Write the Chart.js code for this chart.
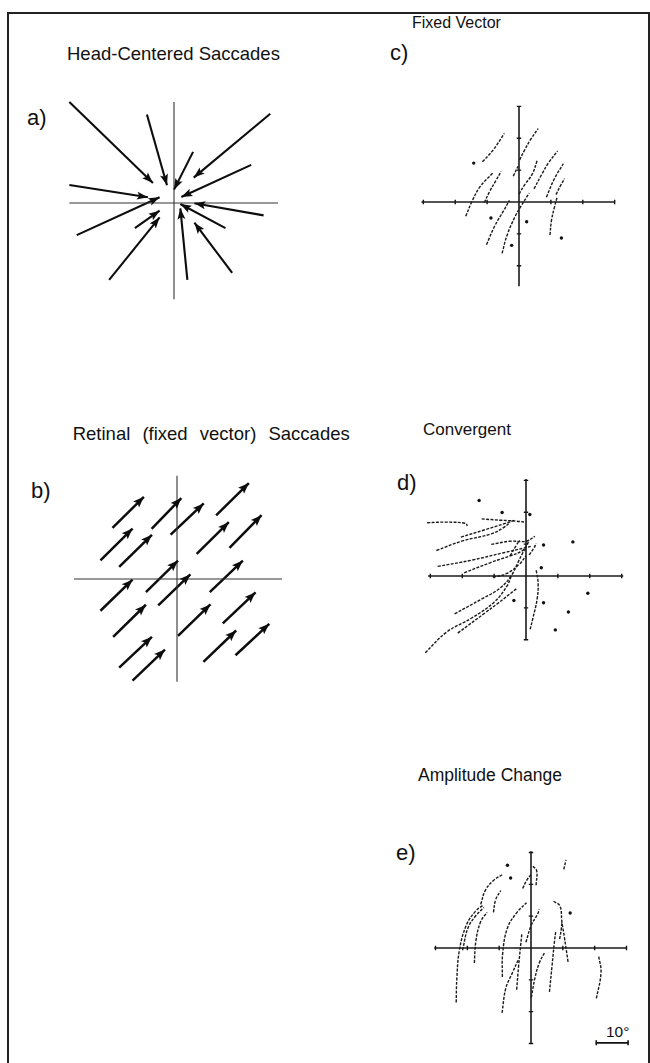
<!DOCTYPE html>
<html>
<head>
<meta charset="utf-8">
<script src="https://cdn.jsdelivr.net/npm/chart.js@4/dist/chart.umd.min.js"></script>
<style>
html, body { margin: 0; padding: 0; background: #fff; overflow: hidden; }
body { width: 650px; height: 1063px; position: relative; font-family: "Liberation Sans", Arial, sans-serif; color: #111; }
.frame { position: absolute; left: 7px; top: 12px; width: 639px; height: 1060px; border: 2px solid #222; border-bottom: none; }
.t { position: absolute; white-space: nowrap; line-height: 1; }
canvas { position: absolute; }
</style>
</head>
<body>
<div class="frame"></div>

<div class="t" style="left:67px;top:45px;font-size:18.5px">Head-Centered Saccades</div>
<div class="t" style="left:412px;top:14.5px;font-size:16px">Fixed Vector</div>
<div class="t" style="left:72.7px;top:425px;font-size:18.5px;word-spacing:7px">Retinal (fixed vector) Saccades</div>
<div class="t" style="left:423px;top:421px;font-size:17px">Convergent</div>
<div class="t" style="left:418px;top:767px;font-size:17.5px">Amplitude Change</div>
<div class="t" style="left:27px;top:107.4px;font-size:22px">a)</div>
<div class="t" style="left:31px;top:480.4px;font-size:22px">b)</div>
<div class="t" style="left:390px;top:41.5px;font-size:22px">c)</div>
<div class="t" style="left:397px;top:471.5px;font-size:22px">d)</div>
<div class="t" style="left:396px;top:841.5px;font-size:22px">e)</div>
<div class="t" style="left:606px;top:1024px;font-size:15.5px">10°</div>

<canvas id="panelA" width="234" height="234" style="left:57.3px;top:85.9px"></canvas>
<canvas id="panelB" width="234" height="234" style="left:60.3px;top:461.7px"></canvas>
<canvas id="panelC" width="234" height="234" style="left:402.3px;top:84.5px"></canvas>
<canvas id="panelD" width="234" height="234" style="left:409px;top:459px"></canvas>
<canvas id="panelE" width="234" height="234" style="left:414.3px;top:830.7px"></canvas>

<script>
// all values in degrees, origin at the axis crossing

// a) head-centered: [x0, y0, x1(tip), y1(tip)]
const headArrows = [
  [-31.3, 30.2, -6.3, 6.0],
  [-8.1, 26.5, -2.1, 5.3],
  [5.7, 15.3, 0, 4.0],
  [28.8, 26.7, 5.9, 7.6],
  [23.1, 11.4, 2.2, 1.8],
  [-31.3, 5.4, -7.8, 1.7],
  [-29.1, -9.6, -4.3, 1.7],
  [26.8, -3.7, 6.1, -0.1],
  [15.4, -7.5, 1.9, -0.3],
  [-11.7, -7.5, -4.3, -2.3],
  [-19.4, -23.0, -4.3, -4.3],
  [4.0, -23.0, 1.9, -1.6],
  [17.4, -20.9, 6.1, -5.9]
];
const headAxisX = [-31.3, 31.1];
const headAxisY = [-28.8, 30.2];

// b) retinal (fixed vector)
const retinalArrows = [
  [-19.3, 15.3, -9.9, 24.6],
  [-7.6, 15.0, 1.3, 24.2],
  [-1.9, 13.3, 8.0, 22.6],
  [11.7, 19.0, 21.5, 28.7],
  [-22.9, 5.6, -13.3, 15.1],
  [-17.3, 3.6, -7.5, 13.2],
  [5.9, 7.5, 15.5, 17.0],
  [15.7, 9.3, 25.3, 19.1],
  [-9.3, -3.9, 0.3, 5.5],
  [-22.9, -9.5, -13.3, -0.2],
  [-5.6, -7.9, 4.0, 1.4],
  [9.8, -3.9, 19.7, 5.5],
  [-19.1, -17.3, -9.3, -7.7],
  [0.3, -17.0, 10.0, -7.6],
  [13.7, -13.3, 23.5, -4.0],
  [-17.3, -26.5, -7.5, -17.3],
  [-13.3, -30.4, -3.6, -21.1],
  [7.9, -24.8, 17.7, -15.4],
  [17.5, -22.8, 27.6, -13.4]
];
const retinalAxisX = [-30.8, 31.4];
const retinalAxisY = [-30.7, 30.9];

// c) fixed vector
const fixedTraces = [
  [[-11.5, 12.6], [-8.2, 16.2], [-4.6, 21.5]],
  [[0.2, 13.2], [1.7, 16.2], [3.7, 19.7], [6.0, 23.0]],
  [[-1.8, 8.1], [-0.3, 11.2]],
  [[0, 2.5], [1.7, 5.3], [4.2, 8.8], [5.7, 13.0]],
  [[4.7, 4.1], [7.2, 8.8], [9.2, 12.2], [12.1, 16.0]],
  [[-16.7, -4.5], [-14.7, 0.3], [-12.2, 4.8], [-8.2, 9.1]],
  [[-10.9, -0.2], [-9.2, 3.3], [-7.2, 6.8], [-5.6, 9.6]],
  [[-10.2, -13.4], [-7.7, -7.7], [-4.8, -2.7], [-3.0, 0.5]],
  [[-5.3, -16.1], [-3.8, -10.6], [-1.3, -4.7], [0.7, -1.2], [3.2, 2.8]],
  [[8.6, 1.5], [11.1, 7.3], [13.9, 12.0]],
  [[11.6, 2.3], [13.1, 5.3], [14.3, 7.3]],
  [[9.7, -10.4], [10.2, -5.7], [11.1, -1.7], [11.9, 1.3]]
];
const fixedDots = [[-14.2, 12.2], [-8.8, -5.0], [2.4, -6.2], [-2.3, -13.6], [13.3, -11.3]];
const fixedAxisX = [-30.6, 29.8];
const fixedAxisY = [-26.4, 29.9];

// d) convergent
const convergentTraces = [
  [[-31, 16.7], [-24.9, 16.9], [-18.9, 16.5], [-18.4, 15.7]],
  [[-13.9, 17.9], [-8, 17.5], [-3, 17.2], [-0.2, 16.9]],
  [[-20.4, 12.2], [-12.9, 14.5], [-6.5, 16.5], [-3.5, 17.5]],
  [[-28.1, 8.0], [-19.9, 11.0], [-10.9, 13.2], [-7.0, 15.2], [-5.0, 16.7]],
  [[-10.9, 9.9], [-5.0, 10.9], [0, 10.9], [2.8, 12.4]],
  [[-27.7, 3.0], [-16.9, 5.0], [-7.0, 7.3], [-0.5, 8.8], [1.5, 9.3]],
  [[-19.4, 1.0], [-10.9, 4.3], [-5.0, 6.3], [-1.0, 8.0], [0.2, 9.7], [1.0, 11.2]],
  [[-5, 6.3], [-3, 9.7], [-2, 11.2]],
  [[1.0, 6.6], [2.5, 8.8], [3.2, 10.2]],
  [[-10.4, -0.4], [-6, 0.8], [-2, 3.8], [0, 6.3]],
  [[-22.4, -11.9], [-13.9, -7.2], [-8, -3.7], [-4.5, 0.3], [-2.5, 4.3], [-1, 7.3], [0, 8.8]],
  [[-21.4, -17.9], [-12.9, -11.6], [-9, -8.7], [-3, -4.0]],
  [[-31.6, -24.1], [-24.9, -17.6], [-16.9, -13.1], [-10, -8.2], [-6, -3.2], [-4.5, 0.3]],
  [[3.2, 1.8], [3.8, -2.2], [3.5, -7.2], [2.2, -13.1], [1.2, -17.1]]
];
const convergentDots = [[-7.5, 19.9], [1.2, 19.3], [5.5, 9.7], [14.7, 10.7], [4.8, 2.6],
  [19.4, -5.4], [-3.8, -7.7], [5.5, -8.4], [13.3, -11.3], [9.2, -16.9], [-14.7, 23.7]];
const convergentAxisX = [-30.7, 30.5];
const convergentAxisY = [-20.1, 30.4];

// e) amplitude change
const amplitudeTraces = [
  [[-23.5, -17.1], [-23.3, -9.6], [-22.5, -0.7], [-20.3, 7.2], [-17.3, 11.7], [-15.1, 13.4]],
  [[-21.5, -0.7], [-19.8, 6.3], [-17.3, 10.2], [-14.8, 12.7]],
  [[-17.8, -4.7], [-17.3, 2.3], [-15.8, 8.3], [-13.8, 11.2]],
  [[-15.8, 13.7], [-14.3, 18.2], [-11.8, 21.2], [-8.8, 23.2]],
  [[-11.8, 11.2], [-11.1, 15.2], [-9.5, 18.0]],
  [[-9.0, -9.1], [-8.9, -1.7], [-7.4, 6.3], [-4.4, 11.2], [-1.4, 14.2]],
  [[-9.1, -20.4], [-7.9, -12.6], [-5.8, -7.7], [-3.9, -3.5]],
  [[-4.5, -13.1], [-3.9, -5.7], [-2.9, 4.3]],
  [[-1.6, 1.8], [0.1, 7.2], [2.1, 10.7], [2.6, 12.2]],
  [[-2.6, 18.7], [-1.4, 21.2], [0.1, 23.2]],
  [[0.6, 25.7], [1.8, 24.2], [1.6, 19.7]],
  [[0.1, -15.6], [1.2, -9.6], [2.6, -4.7], [4.4, -1.2]],
  [[5.8, -13.8], [6.6, -5.7], [7.4, 2.3], [7.8, 5.3]],
  [[7.1, 14.7], [9.1, 13.2], [9.7, 8.3], [10.5, 3.3], [11.7, -4.7]],
  [[9.0, 2.8], [9.5, 5.8], [9.7, 8.3]],
  [[10.3, 24.7], [11.0, 27.7]],
  [[21.3, -2.7], [22.0, -7.7], [20.5, -16.1]]
];
const amplitudeDots = [[-7.4, 26.0], [-6.4, 22.0], [12.3, 11.0]];
const amplitudeAxisX = [-30.4, 30.1];
const amplitudeAxisY = [-30.0, 30.4];
const scaleBar = [[20.5, -29.8], [30.5, -29.8]];   // 10 deg

const tickX = [-30, -20, -10, 10, 20, 30];
const tickY = [-20, -10, 10, 20, 30];
const tickYe = [-30, -20, -10, 10, 20, 30];

const pt = p => ({ x: p[0], y: p[1] });

function axes(xr, yr, w, col) {
  return [
    { data: [{ x: xr[0], y: 0 }, { x: xr[1], y: 0 }], showLine: true, borderColor: col, borderWidth: w, pointRadius: 0 },
    { data: [{ x: 0, y: yr[0] }, { x: 0, y: yr[1] }], showLine: true, borderColor: col, borderWidth: w, pointRadius: 0 }
  ];
}

function ticks(xs, ys) {
  return [
    { data: xs.map(v => ({ x: v, y: 0 })), pointStyle: 'line', rotation: 90, pointRadius: 2.2, borderColor: '#111', borderWidth: 1.4 },
    { data: ys.map(v => ({ x: 0, y: v })), pointStyle: 'line', rotation: 0, pointRadius: 2.2, borderColor: '#111', borderWidth: 1.4 }
  ];
}

function arrowSets(list, w, head) {
  return list.map(a => ({
    data: [{ x: a[0], y: a[1] }, { x: a[2], y: a[3] }],
    showLine: true, borderColor: '#0d0d0d', borderWidth: w, pointRadius: 0, arrow: head
  }));
}

function traceSets(list) {
  return list.map(tr => ({
    data: tr.map(pt), showLine: true, borderColor: '#1a1a1a', borderWidth: 1.4,
    borderDash: [3, 1.4], tension: 0.4, pointRadius: 0
  }));
}

function dotSet(list) {
  return { data: list.map(pt), pointRadius: 1.7, backgroundColor: '#111', borderWidth: 0 };
}

const arrowHeads = {
  id: 'arrowHeads',
  afterDatasetsDraw(chart) {
    const ctx = chart.ctx;
    chart.data.datasets.forEach((ds, i) => {
      if (!ds.arrow) return;
      const pts = chart.getDatasetMeta(i).data;
      const p = pts[pts.length - 1], q = pts[pts.length - 2];
      const ang = Math.atan2(p.y - q.y, p.x - q.x);
      const L = ds.arrow.len, H = ds.arrow.half;
      ctx.save();
      ctx.translate(p.x, p.y);
      ctx.rotate(ang);
      ctx.beginPath();
      ctx.moveTo(0, 0);
      ctx.lineTo(-L, -H);
      ctx.lineTo(-L * 0.8, 0);
      ctx.lineTo(-L, H);
      ctx.closePath();
      ctx.fillStyle = '#0d0d0d';
      ctx.fill();
      ctx.restore();
    });
  }
};

function makePanel(id, datasets) {
  new Chart(document.getElementById(id), {
    type: 'scatter',
    data: { datasets: datasets },
    options: {
      responsive: false,
      animation: false,
      events: [],
      layout: { padding: 0 },
      scales: {
        x: { type: 'linear', min: -35, max: 35, display: false },
        y: { type: 'linear', min: -35, max: 35, display: false }
      },
      plugins: { legend: { display: false }, tooltip: { enabled: false } }
    },
    plugins: [arrowHeads]
  });
}

makePanel('panelA', [
  ...axes(headAxisX, headAxisY, 1.1, '#333'),
  ...arrowSets(headArrows, 2.1, { len: 11, half: 4 })
]);

makePanel('panelB', [
  ...axes(retinalAxisX, retinalAxisY, 1.1, '#333'),
  ...arrowSets(retinalArrows, 2.5, { len: 11, half: 4.2 })
]);

makePanel('panelC', [
  ...axes(fixedAxisX, fixedAxisY, 1.6, '#1a1a1a'),
  ...ticks(tickX, tickY),
  ...traceSets(fixedTraces),
  dotSet(fixedDots)
]);

makePanel('panelD', [
  ...axes(convergentAxisX, convergentAxisY, 1.6, '#1a1a1a'),
  ...ticks(tickX, tickY),
  ...traceSets(convergentTraces),
  dotSet(convergentDots)
]);

makePanel('panelE', [
  ...axes(amplitudeAxisX, amplitudeAxisY, 1.6, '#1a1a1a'),
  ...ticks(tickX, tickYe),
  ...traceSets(amplitudeTraces),
  dotSet(amplitudeDots),
  { data: scaleBar.map(pt), showLine: true, borderColor: '#111', borderWidth: 1.6,
    pointStyle: 'line', rotation: 90, pointRadius: 2.5 }
]);
</script>
</body>
</html>
